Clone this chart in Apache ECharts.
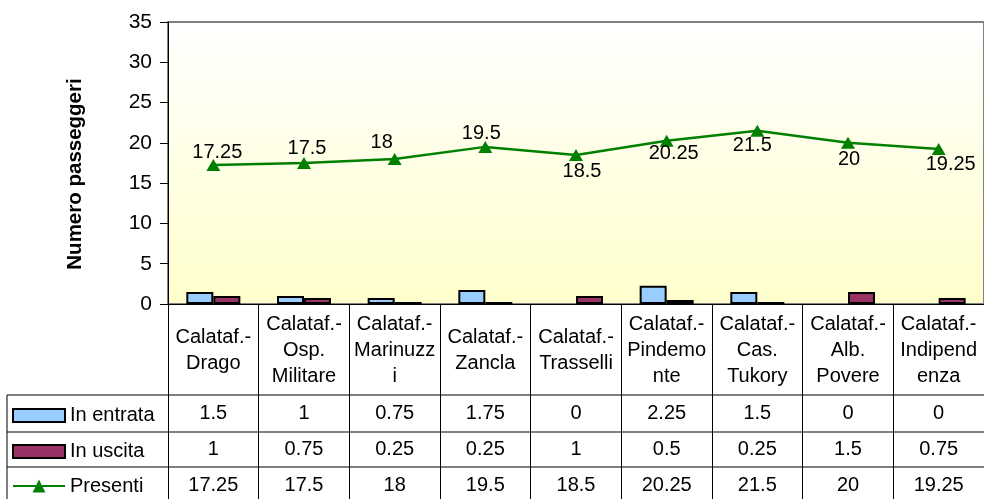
<!DOCTYPE html>
<html>
<head>
<meta charset="utf-8">
<script src="https://cdn.jsdelivr.net/npm/echarts@6/dist/echarts.min.js"></script>
<style>
  html, body { margin: 0; padding: 0; background: #fff; }
  #chart { width: 984px; height: 499px; }
</style>
</head>
<body>
<div id="chart"></div>
<script>
// Stops along the line and passenger counts
const categories = [
  'Calataf.-\nDrago', 'Calataf.-\nOsp.\nMilitare', 'Calataf.-\nMarinuzz\ni',
  'Calataf.-\nZancla', 'Calataf.-\nTrasselli', 'Calataf.-\nPindemo\nnte',
  'Calataf.-\nCas.\nTukory', 'Calataf.-\nAlb.\nPovere', 'Calataf.-\nIndipend\nenza'
];
const inEntrata = [1.5, 1, 0.75, 1.75, 0, 2.25, 1.5, 0, 0];
const inUscita = [1, 0.75, 0.25, 0.25, 1, 0.5, 0.25, 1.5, 0.75];
const presenti = [17.25, 17.5, 18, 19.5, 18.5, 20.25, 21.5, 20, 19.25];
const yTicks = { min: 0, max: 35, interval: 5 };
const yTitle = 'Numero passeggeri';

// Label placement for the "Presenti" values (offsets from each point)
const labelOffsets = [[4, -13], [3, -15], [-13, -16], [-4, -13], [6, 17], [7, 13], [-5, 15], [1, 17], [12, 16]];

const FONT = 'Arial, "Liberation Sans", sans-serif';
const GREEN = '#008000';
const gridLeft = 168, gridTop = 22, gridBottom = 195;
const axisY = 499 - gridBottom;          // y of the category axis
const rowCenters = [350, 413.5, 449.5, 485];

const chart = echarts.init(document.getElementById('chart'), null, { renderer: 'canvas' });

function valueAxis(values, center) {
  return {
    type: 'category',
    position: 'bottom',
    data: values.map(v => String(v)),
    axisLine: { show: false },
    axisTick: { show: false },
    splitLine: { show: false },
    axisLabel: {
      interval: 0, margin: center - axisY, verticalAlign: 'middle',
      color: '#000', fontFamily: FONT, fontSize: 20
    }
  };
}

function legendRow(name, center, icon, itemHeight, itemStyle) {
  const row = {
    data: [{ name: name }],
    left: 12,
    top: center - 10,
    padding: 0,
    itemWidth: 52,
    itemHeight: itemHeight,
    itemStyle: itemStyle,
    selectedMode: false,
    textStyle: { color: '#000', fontFamily: FONT, fontSize: 20, lineHeight: 22 }
  };
  if (icon) row.data[0].icon = icon;
  return row;
}

// Bars with no value are not drawn (no outline on the axis)
function barData(values) {
  return values.map(v => v === 0 ? { value: v, itemStyle: { borderWidth: 0 } } : v);
}

const hLines = [395, 432, 467].map(y => ({
  type: 'line', silent: true,
  shape: { x1: 7, y1: y, x2: 990, y2: y },
  style: { stroke: '#000', lineWidth: 1 }
}));

const option = {
  animation: false,
  backgroundColor: '#fff',
  textStyle: { fontFamily: FONT },
  grid: {
    left: gridLeft, top: gridTop, right: -3, bottom: gridBottom,
    show: true,
    borderColor: '#808080', borderWidth: 2,
    backgroundColor: {
      type: 'linear', x: 0, y: 0, x2: 0, y2: 1,
      colorStops: [{ offset: 0, color: '#FFFFFF' }, { offset: 1, color: '#FFFFCC' }]
    }
  },
  legend: [
    legendRow('In entrata', rowCenters[1] + 1, 'rect', 13, { borderColor: '#000', borderWidth: 2 }),
    legendRow('In uscita', rowCenters[2] + 1, 'rect', 13, { borderColor: '#000', borderWidth: 2 }),
    legendRow('Presenti', rowCenters[3], null, 16, { color: GREEN, borderColor: GREEN, borderWidth: 0 })
  ],
  xAxis: [
    {
      type: 'category',
      position: 'bottom',
      data: categories,
      axisLine: { show: true, onZero: false, lineStyle: { color: '#000', width: 1 } },
      axisTick: { show: true, interval: 0, length: 200, lineStyle: { color: '#000', width: 1 } },
      splitLine: { show: false },
      axisLabel: {
        interval: 0, margin: rowCenters[0] - axisY, verticalAlign: 'middle',
        lineHeight: 26, color: '#000', fontFamily: FONT, fontSize: 20
      }
    },
    valueAxis(inEntrata, rowCenters[1]),
    valueAxis(inUscita, rowCenters[2]),
    valueAxis(presenti, rowCenters[3])
  ],
  yAxis: {
    type: 'value',
    min: yTicks.min, max: yTicks.max, interval: yTicks.interval,
    axisLine: { show: true, lineStyle: { color: '#000', width: 1 } },
    axisTick: { show: true, length: 8, lineStyle: { color: '#000' } },
    splitLine: { show: false },
    axisLabel: { margin: 16, color: '#000', fontFamily: FONT, fontSize: 21 }
  },
  graphic: hLines.concat([
    {
      type: 'line', silent: true,
      shape: { x1: 7, y1: 395, x2: 7, y2: 505 },
      style: { stroke: '#000', lineWidth: 1 }
    },
    {
      type: 'text', silent: true,
      x: 75, y: 174, rotation: Math.PI / 2,
      style: {
        text: yTitle, fill: '#000', font: 'bold 20.5px ' + FONT,
        textAlign: 'center', textVerticalAlign: 'middle'
      }
    }
  ]),
  series: [
    {
      name: 'In entrata', type: 'bar', data: barData(inEntrata),
      barWidth: 27, barGap: '0%',
      itemStyle: { color: '#99CCFF', borderColor: '#000', borderWidth: 2 }
    },
    {
      name: 'In uscita', type: 'bar', data: barData(inUscita),
      barWidth: 27, barGap: '0%',
      itemStyle: { color: '#993366', borderColor: '#000', borderWidth: 2 }
    },
    {
      name: 'Presenti', type: 'line',
      data: presenti.map((v, i) => ({
        value: v,
        label: { offset: labelOffsets[i] }
      })),
      symbol: 'triangle', symbolSize: [14, 12],
      lineStyle: { color: GREEN, width: 2.5 },
      itemStyle: { color: GREEN },
      label: {
        show: true, position: 'inside',
        color: '#000', fontFamily: FONT, fontSize: 20
      },
      z: 5
    }
  ]
};

chart.setOption(option);
</script>
</body>
</html>
